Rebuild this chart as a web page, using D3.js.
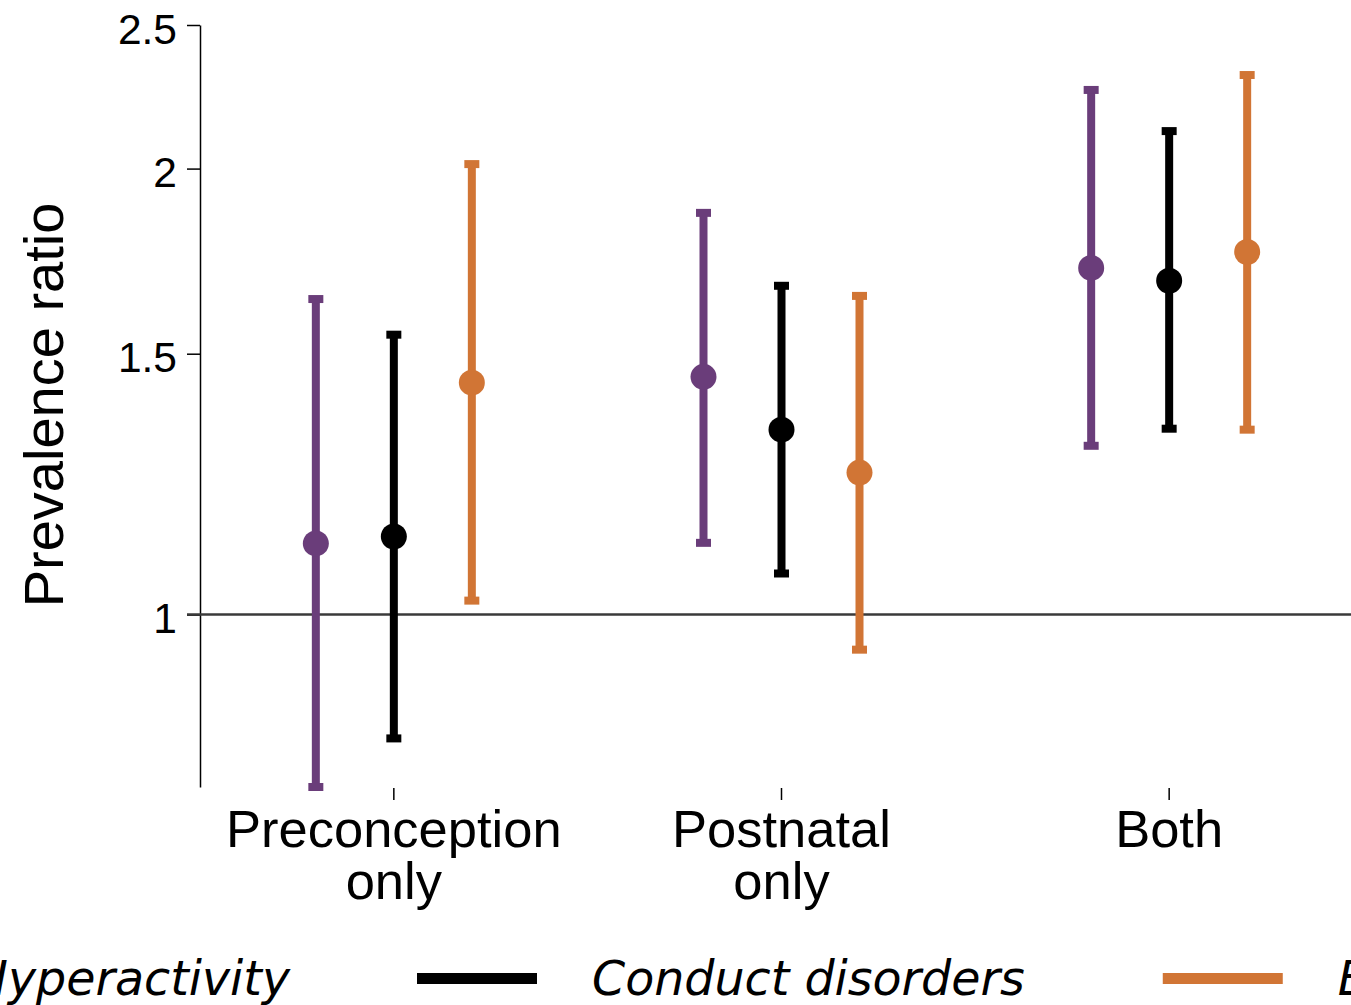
<!DOCTYPE html>
<html>
<head>
<meta charset="utf-8">
<script src="https://cdn.jsdelivr.net/npm/d3@7"></script>
<style>
  html, body { margin: 0; padding: 0; background: #fff; overflow: hidden; }
  svg { display: block; }
</style>
</head>
<body>
<div id="chart"></div>
<script>
// Exposure groups on the x axis (each label split over lines)
const categories = ['Preconception only', 'Postnatal only', 'Both'];
const categoryLines = [['Preconception', 'only'], ['Postnatal', 'only'], ['Both']];

// Outcomes, drawn side by side inside each group
const series = ['Hyperactivity', 'Conduct disorders', 'Emotional disorders'];
const seriesColors = ['#6a3d7a', '#000000', '#d17535'];

// Prevalence ratios with 95% CI, one array per outcome, in category order
const hyperEstimate = [1.117, 1.447, 1.714];
const hyperLower = [0.765, 1.118, 1.300];
const hyperUpper = [1.633, 1.867, 2.260];

const conductEstimate = [1.129, 1.333, 1.680];
const conductLower = [0.825, 1.066, 1.335];
const conductUpper = [1.545, 1.667, 2.120];

const emotionEstimate = [1.434, 1.247, 1.757];
const emotionLower = [1.022, 0.947, 1.333];
const emotionUpper = [2.014, 1.641, 2.313];

const yTicks = [1, 1.5, 2, 2.5];

const config = {
    width: 1351,
    height: 1005,
    plotLeft: 200,
    plotRight: 1363,
    plotTop: 25,
    plotBottom: 787,
    seriesSpread: 78,
    barWidth: 8,
    capWidth: 15,
    capHeight: 8,
    pointRadius: 13,
    keyWidth: 120,
    keyTextGap: 55,
    legendGaps: [127, 138]
};

// Build a flat table for drawing
const estimates = [hyperEstimate, conductEstimate, emotionEstimate];
const lowers = [hyperLower, conductLower, emotionLower];
const uppers = [hyperUpper, conductUpper, emotionUpper];
const rows = [];
series.forEach((s, si) => {
    categories.forEach((c, ci) => {
        rows.push({
            series: s,
            category: c,
            color: seriesColors[si],
            est: estimates[si][ci],
            lo: lowers[si][ci],
            hi: uppers[si][ci]
        });
    });
});

const svg = d3.select('#chart')
    .append('svg')
    .attr('width', config.width)
    .attr('height', config.height);

const x = d3.scaleBand()
    .domain(categories)
    .range([config.plotLeft, config.plotRight]);

const xInner = d3.scalePoint()
    .domain(series)
    .range([-config.seriesSpread, config.seriesSpread]);

const y = d3.scaleLog()
    .domain([0.765, 2.5])
    .range([config.plotBottom, config.plotTop]);

const cx = d => x(d.category) + x.bandwidth() / 2 + xInner(d.series);

// Y axis
const yAxis = svg.append('g')
    .attr('transform', `translate(${config.plotLeft},0)`)
    .call(d3.axisLeft(y)
        .tickValues(yTicks)
        .tickFormat(d3.format(''))
        .tickSize(13)
        .tickSizeOuter(0)
        .tickPadding(10));
yAxis.select('.domain').attr('stroke-width', 1.5);
yAxis.selectAll('.tick line').attr('stroke-width', 1.5);
yAxis.selectAll('.tick text')
    .attr('dy', '0.43em')
    .style('font-family', '"Liberation Sans", Arial, sans-serif')
    .style('font-size', '42.5px')
    .attr('fill', '#000');

// Reference line at ratio 1
svg.append('line')
    .attr('x1', config.plotLeft - 13)
    .attr('x2', config.width)
    .attr('y1', y(1))
    .attr('y2', y(1))
    .attr('stroke', '#3a3a3a')
    .attr('stroke-width', 2.5);

// X axis ticks (no domain line)
const xAxis = svg.append('g')
    .attr('transform', `translate(0,${config.plotBottom + 1})`)
    .call(d3.axisBottom(x).tickSize(12).tickFormat(''));
xAxis.select('.domain').remove();
xAxis.selectAll('.tick line').attr('stroke-width', 1.5);

// Multi-line category labels
const catLabels = svg.append('g')
    .selectAll('text')
    .data(categories)
    .join('text')
    .attr('x', d => x(d) + x.bandwidth() / 2)
    .attr('y', 847)
    .attr('text-anchor', 'middle')
    .style('font-family', '"Liberation Sans", Arial, sans-serif')
    .style('font-size', '52.5px')
    .attr('fill', '#000');
catLabels.each(function (d, i) {
    d3.select(this).selectAll('tspan')
        .data(categoryLines[i])
        .join('tspan')
        .attr('x', x(d) + x.bandwidth() / 2)
        .attr('dy', (t, j) => j === 0 ? 0 : 52)
        .text(t => t);
});

// Y axis title
svg.append('text')
    .attr('transform', 'translate(63,405) rotate(-90)')
    .attr('text-anchor', 'middle')
    .style('font-family', '"Liberation Sans", Arial, sans-serif')
    .style('font-size', '56px')
    .attr('fill', '#000')
    .text('Prevalence ratio');

// Error bars
const marks = svg.append('g');
marks.selectAll('.ci')
    .data(rows)
    .join('line')
    .attr('class', 'ci')
    .attr('x1', cx)
    .attr('x2', cx)
    .attr('y1', d => y(d.lo))
    .attr('y2', d => y(d.hi))
    .attr('stroke', d => d.color)
    .attr('stroke-width', config.barWidth);

['lo', 'hi'].forEach(end => {
    marks.selectAll(`.cap-${end}`)
        .data(rows)
        .join('line')
        .attr('class', `cap-${end}`)
        .attr('x1', d => cx(d) - config.capWidth / 2)
        .attr('x2', d => cx(d) + config.capWidth / 2)
        .attr('y1', d => y(d[end]))
        .attr('y2', d => y(d[end]))
        .attr('stroke', d => d.color)
        .attr('stroke-width', config.capHeight);
});

// Point estimates
marks.selectAll('.point')
    .data(rows)
    .join('circle')
    .attr('class', 'point')
    .attr('cx', cx)
    .attr('cy', d => y(d.est))
    .attr('r', config.pointRadius)
    .attr('fill', d => d.color);

// Legend along the bottom, laid out left to right (runs off both edges)
const legend = svg.append('g');
const legendItems = legend.selectAll('g')
    .data(series)
    .join('g');
legendItems.append('line')
    .attr('x1', 0)
    .attr('x2', config.keyWidth)
    .attr('y1', 978.5)
    .attr('y2', 978.5)
    .attr('stroke', (d, i) => seriesColors[i])
    .attr('stroke-width', 11);
legendItems.append('text')
    .attr('x', config.keyWidth + config.keyTextGap)
    .attr('y', 995)
    .style('font-family', '"DejaVu Sans", Verdana, sans-serif')
    .style('font-style', 'italic')
    .style('font-size', '47.5px')
    .attr('fill', '#000')
    .text(d => d);

const widths = [];
legendItems.select('text').each(function () { widths.push(this.getComputedTextLength()); });
// second key starts at x = 417
const itemSpan = i => config.keyWidth + config.keyTextGap + widths[i] + config.legendGaps[i];
let startX = 417 - itemSpan(0);
legendItems.attr('transform', (d, i) => {
    const pos = startX;
    if (i < series.length - 1) startX += itemSpan(i);
    return `translate(${pos},0)`;
});
</script>
</body>
</html>
